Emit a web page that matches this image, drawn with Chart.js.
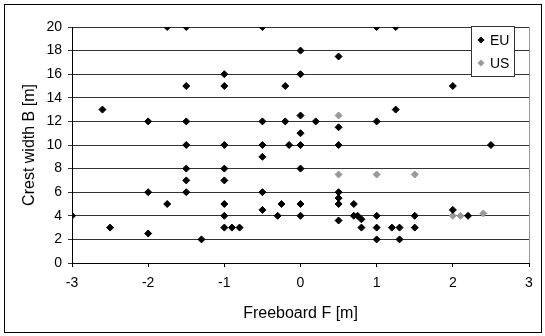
<!DOCTYPE html>
<html>
<head>
<meta charset="utf-8">
<script src="https://cdn.jsdelivr.net/npm/chart.js@4/dist/chart.umd.min.js"></script>
<style>
  html, body { margin: 0; padding: 0; background: #fff; }
  #wrap { width: 545px; height: 336px; }
</style>
</head>
<body>
<div id="wrap"><canvas id="myChart" width="545" height="336"></canvas></div>
<script>
// freeboard F [m] / crest width B [m] per structure
const euFreeboard = [-1.75, -1.5, -0.5, 1, 1.25,
    0, 0.5, -1, 0,
    -1.5, -1, -0.2, 2,
    -2.6, 1.25,
    -2, -1.5, -0.5, -0.2, 0.2, 1, 0, 0.5, 0,
    -1.5, -1, -0.5, -0.15, 0, 0.5, 2.5,
    -0.5, -1.5, -1, 0, -1.5, -1,
    -2, -1.5, -0.5, 0.5, 0.5,
    -1.75, -1, -0.25, 0, 0.5, 0.7,
    -0.5, 2,
    -3, -1, -0.3, 0, 0.7, 0.75, 1, 1.5, 2.2,
    0.8, 0.5,
    -2.5, -1, -0.9, -0.8, 0.8, 1, 1.2, 1.3, 1.5,
    -2, -1.3, 1, 1.3];
const euCrest = [20, 20, 20, 20, 20,
    18, 17.5, 16, 16,
    15, 15, 15, 15,
    13, 13,
    12, 12, 12, 12, 12, 12, 12.5, 11.5, 11,
    10, 10, 10, 10, 10, 10, 10,
    9, 8, 8, 8, 7, 7,
    6, 6, 6, 6, 5.5,
    5, 5, 5, 5, 5, 5,
    4.5, 4.5,
    4, 4, 4, 4, 4, 4, 4, 4, 4,
    3.7, 3.6,
    3, 3, 3, 3, 3, 3, 3, 3, 3,
    2.5, 2, 2, 2];
const usFreeboard = [0.5, 0.5, 1, 1.5, 2, 2.1, 2.4];
const usCrest = [12.5, 7.5, 7.5, 7.5, 4, 4, 4.2];

const seriesNames = ['EU', 'US'];
const seriesColors = ['#000000', '#999999'];

const toPoints = (xs, ys) => xs.map((x, i) => ({ x: x, y: ys[i] }));

const FONT = "'Liberation Sans', Arial, sans-serif";

// outer frame, right edge of plot area and the boxed legend
const framePlugin = {
    id: 'frame',
    afterDraw(chart) {
        const ctx = chart.ctx;
        const area = chart.chartArea;
        ctx.save();
        ctx.strokeStyle = '#999999';
        ctx.lineWidth = 1;
        ctx.beginPath();
        ctx.moveTo(Math.round(area.right) + 0.5, area.top);
        ctx.lineTo(Math.round(area.right) + 0.5, area.bottom);
        ctx.stroke();

        ctx.strokeStyle = '#000';
        ctx.strokeRect(4.5, 4.5, 537, 328);

        // legend
        const lx = 471.5, ly = 26.5, lw = 43, lh = 50;
        ctx.fillStyle = '#fff';
        ctx.fillRect(lx, ly, lw, lh);
        ctx.strokeStyle = '#333';
        ctx.strokeRect(lx, ly, lw, lh);
        ctx.font = '14px ' + FONT;
        ctx.textBaseline = 'middle';
        chart.data.datasets.forEach((ds, i) => {
            const cy = 40 + i * 23;
            const cx = 481;
            const r = 3.5;
            ctx.fillStyle = ds.backgroundColor;
            ctx.beginPath();
            ctx.moveTo(cx, cy - r);
            ctx.lineTo(cx + r, cy);
            ctx.lineTo(cx, cy + r);
            ctx.lineTo(cx - r, cy);
            ctx.closePath();
            ctx.fill();
            ctx.fillStyle = '#000';
            ctx.fillText(ds.label, 490, cy + 1);
        });
        ctx.restore();
    }
};

const data = {
    datasets: [
        {
            label: seriesNames[0],
            data: toPoints(euFreeboard, euCrest),
            backgroundColor: seriesColors[0],
            borderColor: seriesColors[0],
            pointStyle: 'rectRot',
            pointRadius: 3.5,
            borderWidth: 1,
        },
        {
            label: seriesNames[1],
            data: toPoints(usFreeboard, usCrest),
            backgroundColor: seriesColors[1],
            borderColor: seriesColors[1],
            pointStyle: 'rectRot',
            pointRadius: 3.5,
            borderWidth: 1,
        },
    ]
};

const config = {
    type: 'scatter',
    data,
    options: {
        responsive: false,
        animation: false,
        layout: {
            padding: { top: 27, right: 16, bottom: 0, left: 0 }
        },
        plugins: {
            legend: { display: false },
            tooltip: { enabled: false },
        },
        scales: {
            x: {
                type: 'linear',
                min: -3,
                max: 3,
                afterFit: scale => { scale.height = 73; },
                ticks: {
                    stepSize: 1,
                    color: '#000',
                    padding: 8,
                    font: { family: FONT, size: 14 },
                },
                grid: {
                    drawOnChartArea: false,
                    drawTicks: true,
                    tickLength: 4,
                    color: '#000',
                },
                border: { display: true, color: '#000', width: 1 },
                title: {
                    display: true,
                    text: 'Freeboard F [m]',
                    color: '#000',
                    font: { family: FONT, size: 16 },
                    padding: { top: 0, bottom: 13 },
                },
            },
            y: {
                type: 'linear',
                min: 0,
                max: 20,
                afterFit: scale => { scale.width = 72; },
                ticks: {
                    stepSize: 2,
                    color: '#000',
                    padding: 6,
                    font: { family: FONT, size: 14 },
                },
                grid: {
                    color: '#333',
                    tickLength: 4,
                },
                border: { display: true, color: '#000', width: 1 },
                title: {
                    display: true,
                    text: 'Crest width B [m]',
                    color: '#000',
                    font: { family: FONT, size: 16 },
                    padding: { top: 20, bottom: 0 },
                },
            }
        }
    },
    plugins: [framePlugin]
};

// render
const ctx = document.getElementById('myChart');
const myChart = new Chart(ctx, config);
</script>
</body>
</html>
